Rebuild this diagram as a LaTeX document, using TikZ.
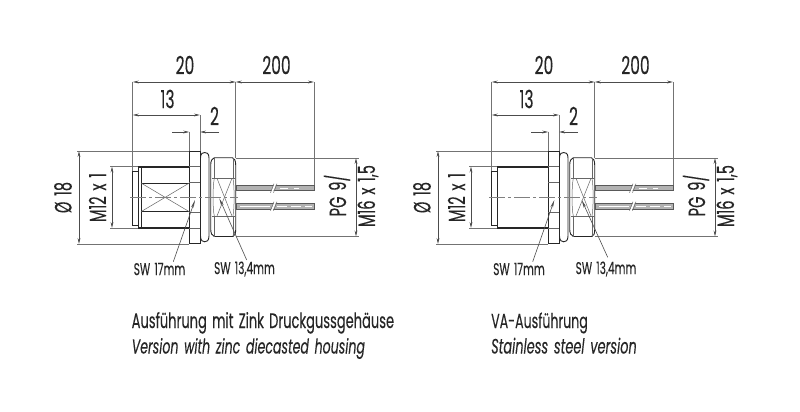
\documentclass[tikz,border=0pt]{standalone}
\usepackage{fontspec}
\setmainfont{Poppins}[FakeStretch=0.62,FakeBold=0.15,WordSpace=1.5]
\usetikzlibrary{arrows.meta}
\tikzset{
  dimline/.style={draw=black!70,line width=0.7pt},
  dimarrows/.style={dimline,{Stealth[length=6pt,width=2.8pt]}-{Stealth[length=6pt,width=2.8pt]}},
  extline/.style={draw=black!55,line width=0.7pt},
  outline/.style={draw=black!85,line width=0.9pt},
  heavy/.style={draw=black!85,line width=1.6pt},
  thinline/.style={draw=black!60,line width=0.5pt},
  centre/.style={draw=black!50,line width=0.5pt,dash pattern=on 16pt off 3pt on 3pt off 3pt},
  leader/.style={draw=black!70,line width=0.6pt,-{Stealth[length=8pt,width=2.6pt]}},
  wire/.style={fill=black!30,draw=black!65,line width=0.6pt},
  dimtext/.style={font=\fontsize{25}{26}\selectfont,text=black!85,inner sep=0pt},
  rottext/.style={font=\fontsize{23.5}{26}\selectfont,text=black!85,inner sep=0pt,rotate=90},
  swtext/.style={font=\fontsize{17}{18}\selectfont,text=black!85,inner sep=0pt},
  captext/.style={text=black!85,inner sep=0pt,anchor=base west}
}
\newcommand{\partcommon}{%
  \coordinate (d20a) at (132.7,82);
  \coordinate (d20b) at (235.7,82);
  \coordinate (d200b) at (314,82);
  \coordinate (d13a) at (132.7,115);
  \coordinate (d13b) at (200,115);
  \coordinate (d2a) at (189.3,132);
  \coordinate (d2b) at (200,132);
  \coordinate (d2l) at (172,132);
  \coordinate (d2r) at (219,132);
  \coordinate (o18a) at (79,151);
  \coordinate (o18b) at (79,244);
  \coordinate (m12a) at (112,166.5);
  \coordinate (m12b) at (112,228);
  \coordinate (pga) at (356,158);
  \coordinate (pgb) at (356,236.5);
  % extension lines
  \draw[extline] (d20a) -- (132.7,171);
  \draw[extline] (d20b) -- (235.7,158);
  \draw[extline] (d200b) -- (314,186);
  \draw[extline] (d2a) -- (189.3,151);
  \draw[extline] (d13b) -- (200,152);
  \draw[extline] (77,151) -- (189.3,151);
  \draw[extline] (77,244) -- (189.3,244);
  \draw[extline] (110,166.5) -- (138,166.5);
  \draw[extline] (110,228) -- (138,228);
  \draw[extline] (235.7,158) -- (359,158);
  \draw[extline] (235.7,236.5) -- (359,236.5);
  % dimension lines
  \draw[dimarrows] (d20a) -- (d20b);
  \draw[dimarrows] (d20b) -- (d200b);
  \draw[dimarrows] (d13a) -- (d13b);
  \draw[dimline,-{Stealth[length=6pt,width=2.8pt]}] (d2l) -- (d2a);
  \draw[dimline,-{Stealth[length=6pt,width=2.8pt]}] (d2r) -- (d2b);
  \draw[dimarrows] (o18a) -- (o18b);
  \draw[dimarrows] (m12a) -- (m12b);
  \draw[dimarrows] (pga) -- (pgb);
  % connector front
  \draw[outline] (132.7,171) rectangle (138.3,225);
  % flange
  \draw[outline,fill=white] (189.3,151) rectangle (200,243.7);
  \foreach \yy in {166.7,182.7,212,228} \draw[thinline] (189.3,\yy) -- (200,\yy);
  % O-ring
  \draw[outline] (200.5,158) .. controls (200.5,153) and (203,152.5) .. (204.7,152.5)
     .. controls (206.5,152.5) and (209,153) .. (209,158) -- (209,236)
     .. controls (209,241) and (206.5,241.8) .. (204.7,241.8)
     .. controls (203,241.8) and (200.5,241) .. (200.5,236) -- cycle;
  % nut
  \draw[outline] (214.3,157.7) -- (232.5,157.7) .. controls (234.5,158) and (235.7,161) .. (235.7,165)
     -- (235.7,230) .. controls (235.7,234) and (234.5,236.2) .. (232.5,236.5) -- (214.3,236.5)
     .. controls (212,236) and (210.7,233) .. (210.7,229) -- (210.7,165)
     .. controls (210.7,161) and (212,158.2) .. (214.3,157.7) -- cycle;
  \draw[thinline] (214.3,157.7) -- (214.3,178.3);
  \draw[thinline] (214.3,216) -- (214.3,236.5);
  \draw[thinline] (233,157.7) -- (233,178.3);
  \draw[thinline] (233,216) -- (233,236.5);
  \draw[thinline] (212,178.3) -- (235,178.3);
  \draw[thinline] (212,216) -- (235,216);
  \draw[thinline] (214.3,178.3) .. controls (212.7,186) and (212.5,208) .. (214.3,216);
  \draw[thinline] (233,178.3) .. controls (234.5,186) and (234.5,208) .. (233,216);
  \draw[thinline] (217,178.3) -- (232,216);
  \draw[thinline] (232,178.3) -- (217,216);
  % wires
  \draw[wire] (236,185.7) rectangle (314.5,190.7);
  \draw[wire] (236,203.5) rectangle (314.5,209);
  \draw[white,line width=0.8pt,dash pattern=on 8pt off 6pt on 5pt off 5pt] (280,188.2) -- (300,188.2);
  \draw[white,line width=0.8pt] (240,206.2) -- (270,206.2);
  \draw[white,line width=0.8pt,dash pattern=on 10pt off 4pt] (277,206.2) -- (312,206.2);
  \foreach \yy in {188.2,206.2} {
    \fill[white] (271,\yy+3.6) -- (273,\yy+3.6) -- (276,\yy-3.6) -- (274,\yy-3.6) -- cycle;
    \draw[thinline] (270.5,\yy+4.5) -- (274,\yy-4.5);
    \draw[thinline] (273.5,\yy+4.5) -- (277,\yy-4.5);
  }
  % labels
  \node[dimtext] (t20) at (185,65) {20};
  \node[dimtext] (t200) at (276.5,65) {200};
  \node[dimtext] (t13) at (167.5,99) {13};
  \node[dimtext] (t2) at (214.5,116) {2};
  \node[rottext] (to18) at (63,197.5) {Ø 18};
  \node[rottext] (tm12) at (97.5,197.5) {M12 x 1};
  \node[rottext] (tpg) at (337,195.5) {PG 9/};
  \node[rottext] (tm16) at (368,196) {M16 x 1,5};
}
\begin{document}
\begin{tikzpicture}[x=1pt,y=-1pt]
  \useasboundingbox (0,0) rectangle (800,412);
  \fill[white] (0,0) rectangle (800,412);
  % left drawing: die-cast housing
  \begin{scope}[name prefix=L-]
    \partcommon
    \draw[heavy] (138.3,166.7) -- (189.3,166.7);
    \draw[heavy] (138.3,228) -- (189.3,228);
    \draw[outline] (138.3,166.7) -- (138.3,228);
    \draw[outline] (141,166.7) -- (141,228);
    \draw[outline] (141,183) -- (189.3,183);
    \draw[outline] (141,211.7) -- (189.3,211.7);
    \draw[thinline] (141,183) -- (189.3,211.7);
    \draw[thinline] (141,211.7) -- (189.3,183);
    \draw[centre] (130,197.4) -- (238,197.4);
    \coordinate (sw17tip) at (195,200);
    \coordinate (sw13tip) at (219.3,198.3);
    \node[swtext] (sw17) at (159.5,269) {SW 17mm};
    \node[swtext] (sw13) at (244.5,269) {SW 13,4mm};
    \draw[leader] (173.3,261.7) -- (sw17tip);
    \draw[leader] (246.7,260) -- (sw13tip);
    \node[captext,font=\fontsize{21}{24}\selectfont] (cap1) at (131.5,328) {Ausführung mit Zink Druckgussgehäuse};
    \node[captext,font=\fontsize{20.3}{24}\selectfont\itshape] (cap2) at (131.5,353.5) {Version with zinc diecasted housing};
  \end{scope}
  % right drawing: stainless steel
  \begin{scope}[xshift=359pt,name prefix=R-]
    \partcommon
    \draw[heavy] (138.3,166.7) -- (189.3,166.7);
    \draw[heavy] (138.3,228) -- (189.3,228);
    \draw[outline] (138.3,166.7) -- (138.3,228);
    \draw[centre] (130,197.4) -- (238,197.4);
    \coordinate (sw17tip) at (195.3,200);
    \coordinate (sw13tip) at (222.7,200);
    \node[swtext] (sw17) at (160,269) {SW 17mm};
    \node[swtext] (sw13) at (247,269) {SW 13,4mm};
    \draw[leader] (173.7,261.7) -- (sw17tip);
    \draw[leader] (248.7,257.3) -- (sw13tip);
    \node[captext,font=\fontsize{20.3}{24}\selectfont] (cap1) at (132,328) {VA-Ausführung};
    \node[captext,font=\fontsize{20.8}{24}\selectfont\itshape] (cap2) at (132,353.5) {Stainless steel version};
  \end{scope}
\end{tikzpicture}
\end{document}
